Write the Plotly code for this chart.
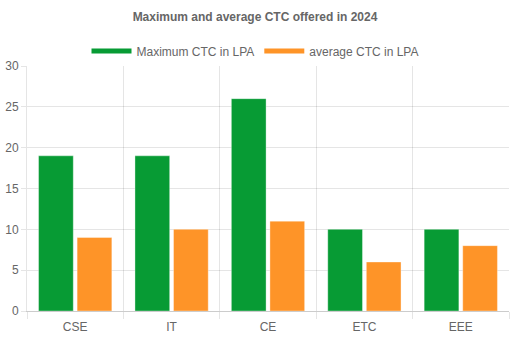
import plotly.graph_objects as go

categories = ["CSE", "IT", "CE", "ETC", "EEE"]
max_ctc = [19, 19, 26, 10, 10]
avg_ctc = [9, 10, 11, 6, 8]
series_names = ["Maximum CTC in LPA", "average CTC in LPA"]
green = "#079b34"
orange = "#fe9428"
font = "Liberation Sans, Arial, sans-serif"

fig = go.Figure()
fig.add_trace(go.Bar(x=categories, y=max_ctc, name=series_names[0], marker=dict(color=green, line=dict(color="rgba(255,255,255,0.35)", width=1)), showlegend=False))
fig.add_trace(go.Bar(x=categories, y=avg_ctc, name=series_names[1], marker=dict(color=orange, line=dict(color="rgba(255,255,255,0.35)", width=1)), showlegend=False))
# legend swatches (wide boxes like the reference)
for name, col in zip(series_names, [green, orange]):
    fig.add_trace(go.Scatter(x=[None], y=[None], mode="lines", name=name, line=dict(color=col, width=12), showlegend=True))

fig.update_layout(
    width=510, height=340,
    margin=dict(l=27, r=1, t=66, b=29),
    paper_bgcolor="white", plot_bgcolor="white",
    font=dict(family=font, size=12, color="#666"),
    title=dict(text="<b>Maximum and average CTC offered in 2024</b>", x=0.5, xanchor="center", y=1 - 17/340, yanchor="middle", font=dict(size=12, color="#666")),
    barmode="group", bargap=0.2, bargroupgap=0.1,
    legend=dict(orientation="h", x=(255-27)/482, xanchor="center", y=1 + (66-51)/245, yanchor="middle", itemwidth=40, font=dict(size=12, color="#666"), tracegroupgap=0, itemsizing="constant"),
    showlegend=True,
)
fig.update_xaxes(range=[-0.5, 4.5], tickson="boundaries", ticks="outside", ticklen=7, tickcolor="rgba(0,0,0,0.1)", ticklabelstandoff=5, showgrid=True, gridcolor="rgba(0,0,0,0.1)", showline=True, linecolor="rgba(0,0,0,0.2)", tickfont=dict(size=12, color="#666"))
fig.update_yaxes(range=[0, 30], dtick=5, ticks="outside", ticklen=5, tickcolor="rgba(0,0,0,0.1)", showgrid=True, gridcolor="rgba(0,0,0,0.1)", zeroline=False, showline=True, linecolor="rgba(0,0,0,0.1)", tickfont=dict(size=12, color="#666"))

fig.write_html("out.html")
